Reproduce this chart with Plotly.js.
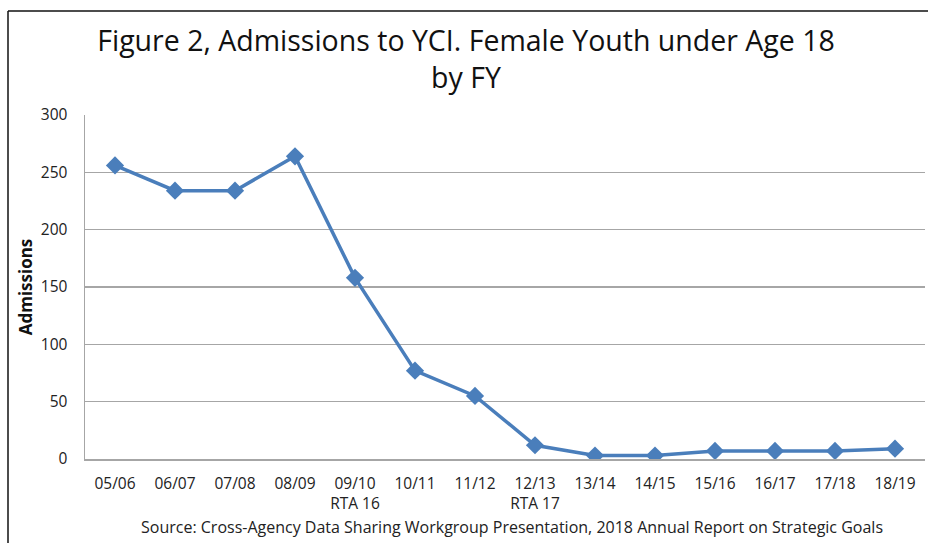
<!DOCTYPE html>
<html>
<head>
<meta charset="utf-8">
<script src="https://cdn.plot.ly/plotly-3.0.1.min.js"></script>
<style>html,body{margin:0;padding:0;background:#fff;}#chart{width:928px;height:543px;}</style>
</head>
<body>
<div id="chart"></div>
<script>
const categories = ["05/06","06/07","07/08","08/09","09/10","10/11","11/12","12/13","13/14","14/15","15/16","16/17","17/18","18/19"];
const tickLabels = ["05/06","06/07","07/08","08/09","09/10<br>RTA 16","10/11","11/12","12/13<br>RTA 17","13/14","14/15","15/16","16/17","17/18","18/19"];
const admissions = [256, 234, 234, 264, 158, 77, 55, 12, 3, 3, 7, 7, 7, 9];
const yTicks = [0, 50, 100, 150, 200, 250, 300];

const FONT = "Open Sans, sans-serif";
const W = 928, H = 543;
const L = 85, R = 3, T = 115, B = 84;
const pw = W - L - R, ph = H - T - B;
const px = x => (x - L) / pw;
const py = y => (H - B - y) / ph;

const trace = {
  x: categories,
  y: admissions,
  type: "scatter",
  mode: "lines+markers",
  line: {color: "#4A7EBB", width: 3.5},
  marker: {symbol: "diamond", size: 14, color: "#4A7EBB"},
  hoverinfo: "x+y"
};

const layout = {
  width: W, height: H,
  margin: {l: L, r: R, t: T, b: B},
  paper_bgcolor: "#ffffff",
  plot_bgcolor: "#ffffff",
  showlegend: false,
  font: {family: FONT, color: "#222222"},
  title: {
    text: "Figure 2, Admissions to YCI. Female Youth under Age 18<br>by FY",
    font: {family: FONT, size: 28.5, color: "#111111"},
    x: 466 / W, xanchor: "center", xref: "container",
    y: 1 - 51 / H, yanchor: "middle", yref: "container"
  },
  xaxis: {
    type: "category",
    tickvals: categories,
    ticktext: tickLabels,
    range: [-0.5, categories.length - 0.5],
    showgrid: false,
    showline: true, linecolor: "#a6a6a6", linewidth: 1.5,
    ticks: "", ticklabelstandoff: 10,
    tickfont: {family: FONT, size: 15.5, color: "#222222"},
    fixedrange: true
  },
  yaxis: {
    range: [0, 300],
    tickvals: yTicks,
    showgrid: true, gridcolor: "#a6a6a6", gridwidth: 1.5,
    showline: true, linecolor: "#a6a6a6", linewidth: 1.5,
    zeroline: false,
    ticks: "", ticklabelstandoff: 13,
    tickfont: {family: FONT, size: 15.5, color: "#222222"},
    title: {text: "<b>Admissions</b>", font: {family: FONT, size: 17, color: "#111111"}, standoff: 4},
    fixedrange: true
  },
  annotations: [{
    text: "Source: Cross-Agency Data Sharing Workgroup Presentation, 2018 Annual Report on Strategic Goals",
    xref: "paper", yref: "paper",
    x: px(512), y: py(527), xanchor: "center", yanchor: "middle",
    showarrow: false,
    font: {family: FONT, size: 16, color: "#222222"}
  }],
  shapes: [
    {type: "line", xref: "paper", yref: "paper", x0: px(8), x1: px(928), y0: py(11), y1: py(11), line: {color: "#111111", width: 1.5}},
    {type: "line", xref: "paper", yref: "paper", x0: px(8), x1: px(8), y0: py(11), y1: py(543), line: {color: "#111111", width: 1.5}}
  ]
};

Plotly.newPlot("chart", [trace], layout, {displayModeBar: false, staticPlot: true});
</script>
</body>
</html>
